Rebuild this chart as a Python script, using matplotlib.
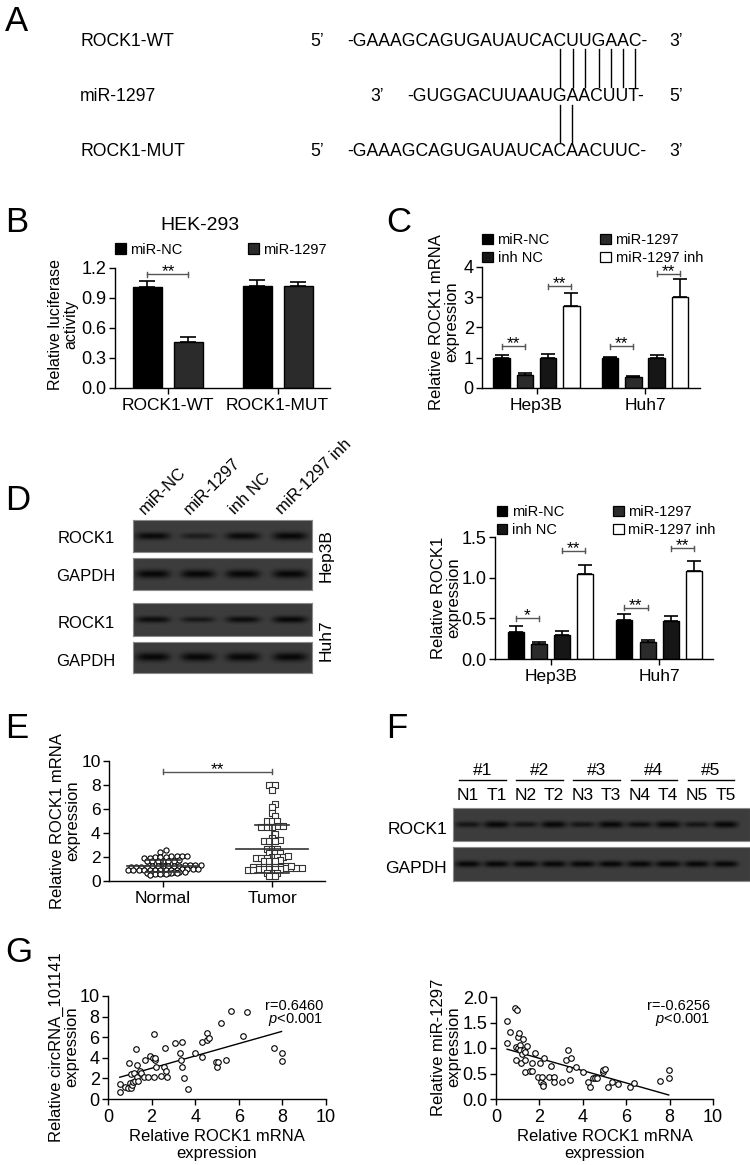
import numpy as np
import matplotlib
matplotlib.use('Agg')
import matplotlib.pyplot as plt
from matplotlib.patches import Rectangle
from matplotlib.lines import Line2D
from matplotlib.font_manager import FontProperties

W, H = 750, 1165
plt.rcParams['font.family'] = ['Liberation Sans', 'DejaVu Sans']
plt.rcParams['mathtext.fontset'] = 'custom'
plt.rcParams['mathtext.rm'] = 'Liberation Sans'
plt.rcParams['mathtext.it'] = 'Liberation Sans:italic'
plt.rcParams['axes.linewidth'] = 1.0
for a in ('xtick', 'ytick'):
    plt.rcParams[a + '.major.width'] = 1.0
    plt.rcParams[a + '.major.size'] = 4
    plt.rcParams[a + '.major.pad'] = 2
    plt.rcParams[a + '.direction'] = 'out'

# ================= DATA =================
# Panel A
a_names = ['ROCK1-WT', 'miR-1297', 'ROCK1-MUT']
a_wt = '-GAAAGCAGUGAUAUCACUUGAAC-'
a_mir = '-GUGGACUUAAUGAACUUT-'
a_mut = '-GAAAGCAGUGAUAUCACAACUUC-'
a_wt_pairs = [17, 18, 19, 20, 21, 22, 23]
a_mut_pairs = [17, 18]
a_mir_anchor = 12

# Panel B
b_groups = ['ROCK1-WT', 'ROCK1-MUT']
b_series = ['miR-NC', 'miR-1297']
b_nc = [1.01, 1.02]
b_nc_err = [0.06, 0.06]
b_mir = [0.46, 1.02]
b_mir_err = [0.05, 0.04]

# Panels C and D (bar charts)
cell_groups = ['Hep3B', 'Huh7']
cd_series = ['miR-NC', 'miR-1297', 'inh NC', 'miR-1297 inh']
c_nc = [1.00, 0.99]
c_nc_err = [0.10, 0.05]
c_mir = [0.44, 0.38]
c_mir_err = [0.05, 0.03]
c_inhnc = [1.00, 1.00]
c_inhnc_err = [0.13, 0.10]
c_inh = [2.72, 3.00]
c_inh_err = [0.42, 0.60]

d_nc = [0.33, 0.48]
d_nc_err = [0.07, 0.07]
d_mir = [0.19, 0.21]
d_mir_err = [0.02, 0.02]
d_inhnc = [0.29, 0.47]
d_inhnc_err = [0.06, 0.06]
d_inh = [1.04, 1.08]
d_inh_err = [0.12, 0.13]

# Panel D western blots (relative band strength)
d_lanes = ['miR-NC', 'miR-1297', 'inh NC', 'miR-1297 inh']
hep3b_rock1 = [0.80, 0.45, 0.80, 1.00]
hep3b_gapdh = [1.00, 1.00, 1.00, 1.00]
huh7_rock1 = [0.75, 0.55, 0.75, 0.90]
huh7_gapdh = [0.95, 0.95, 0.95, 0.95]

# Panel E
e_groups = ['Normal', 'Tumor']
e_normal = [2.6, 2.45,
            2.05, 2.0, 2.05, 1.95, 2.0, 2.05, 1.95, 2.0, 2.05,
            1.7, 1.65, 1.7, 1.75, 1.7, 1.65, 1.7,
            1.3, 1.25, 1.25, 1.2, 1.3, 1.25, 1.2, 1.25, 1.3, 1.2, 1.25, 1.3,
            1.2, 1.25,
            1.0, 0.95, 0.95, 0.9, 1.0, 0.95, 0.9, 1.0, 0.95, 0.9, 0.95, 1.0,
            0.9, 0.95,
            0.75, 0.7, 0.65, 0.7, 0.75, 0.7, 0.65, 0.7, 0.7, 0.75,
            0.55, 0.55, 0.5, 0.55]
e_tumor = [8.0, 8.0, 7.58, 6.4, 6.2, 5.7, 5.4, 5.0, 5.0, 5.0, 4.5, 4.5, 4.55,
           4.5, 4.6, 3.9, 3.6, 3.35, 3.35, 3.4, 3.35, 2.65, 2.65, 2.65, 2.3,
           2.3, 2.3, 2.0, 1.95, 1.95, 2.0, 1.95, 2.0, 2.05, 1.7, 1.7, 1.75,
           1.7, 1.25, 1.2, 1.15, 1.1, 1.1, 1.15, 1.15, 1.1, 1.1, 1.15, 1.15,
           1.25, 0.97, 0.97, 0.95, 0.97, 1.0, 0.97, 0.95, 0.7, 0.65, 0.7,
           0.45, 0.45]

# Panel F western blot
f_groups = ['#1', '#2', '#3', '#4', '#5']
f_lanes = ['N1', 'T1', 'N2', 'T2', 'N3', 'T3', 'N4', 'T4', 'N5', 'T5']
f_rock1 = [0.60, 0.85, 0.60, 0.85, 0.60, 0.90, 0.70, 0.90, 0.60, 0.85]
f_gapdh = [0.85, 0.85, 0.85, 0.85, 0.85, 0.85, 0.85, 0.85, 0.85, 0.85]

# Panel G
g1_x = [0.54, 0.57, 0.77, 0.92, 0.95, 0.99, 1.04, 1.07, 1.10, 1.15, 1.19, 1.22,
        1.30, 1.33, 1.35, 1.38, 1.45, 1.53, 1.65, 1.68, 1.84, 1.91, 2.07, 2.10,
        2.10, 2.14, 2.17, 2.22, 2.45, 2.57, 2.63, 2.68, 2.71, 3.06, 3.29, 3.37,
        3.40, 3.41, 3.48, 3.68, 4.01, 4.29, 4.33, 4.52, 4.55, 4.64, 4.95, 4.98,
        5.05, 5.18, 5.39, 5.64, 6.17, 6.36, 7.61, 7.96, 7.96]
g1_y = [1.46, 0.71, 1.20, 1.04, 3.46, 1.52, 2.40, 1.04, 1.36, 1.68, 2.49, 1.78,
        4.85, 3.30, 2.17, 1.75, 2.75, 2.56, 2.17, 3.79, 2.17, 4.20, 4.00, 6.30,
        2.17, 3.79, 4.00, 3.07, 2.27, 3.14, 4.92, 2.75, 2.17, 5.47, 4.43, 3.79,
        3.14, 5.50, 2.07, 0.97, 4.43, 4.11, 5.57, 5.73, 6.38, 5.95, 3.62, 3.14,
        3.62, 7.41, 3.79, 8.54, 6.15, 8.41, 4.92, 4.50, 3.69]
g1_text = ['r=0.6460', '$\\it{p}$<0.001']
g2_x = [0.51, 0.51, 0.66, 0.86, 0.97, 0.92, 0.94, 1.00, 1.04, 1.01, 1.09, 1.12,
        1.20, 1.17, 1.24, 1.27, 1.32, 1.32, 1.35, 1.43, 1.58, 1.66, 1.66, 1.78,
        1.93, 2.04, 2.09, 2.12, 2.15, 2.16, 2.19, 2.42, 2.55, 2.65, 2.68, 3.04,
        3.24, 3.33, 3.36, 3.39, 3.47, 3.68, 3.99, 4.26, 4.31, 4.49, 4.57, 4.65,
        4.91, 4.95, 5.00, 5.17, 5.35, 5.63, 6.17, 6.37, 7.56, 7.96, 7.96]
g2_y = [1.53, 1.09, 1.32, 1.79, 1.74, 0.76, 1.02, 1.22, 1.30, 1.00, 1.06, 0.96,
        0.89, 0.70, 1.17, 0.96, 0.93, 0.76, 0.52, 1.04, 0.55, 0.55, 0.71, 0.91,
        0.44, 0.71, 0.34, 0.44, 0.29, 0.26, 0.81, 0.44, 0.64, 0.44, 0.33, 0.33,
        0.76, 0.97, 0.59, 0.37, 0.81, 0.62, 0.53, 0.33, 0.23, 0.42, 0.42, 0.42,
        0.52, 0.57, 0.58, 0.23, 0.34, 0.29, 0.23, 0.32, 0.36, 0.42, 0.57]
g2_text = ['r=-0.6256', '$\\it{p}$<0.001']

series_colors = ['#000000', '#2b2b2b', '#161616', '#ffffff']

# ================= HELPERS =================
fig = plt.figure(figsize=(W / 100, H / 100), dpi=100)
renderer = fig.canvas.get_renderer()


def add_ax(x0, y0, x1, y1):
    return fig.add_axes([x0 / W, 1 - y1 / H, (x1 - x0) / W, (y1 - y0) / H])


def ftext(x, y, s, **kw):
    return fig.text(x / W, 1 - y / H, s, **kw)


def fline(xs, ys, **kw):
    fig.add_artist(Line2D([x / W for x in xs], [1 - y / H for y in ys],
                          transform=fig.transFigure, **kw))


def letter(x, y, s):
    ftext(x, y, s, fontsize=25, va='baseline', ha='left')


def style_ax(ax):
    ax.spines['top'].set_visible(False)
    ax.spines['right'].set_visible(False)


def legend_item(x, y, color, label, size=10.5, fs=10.5):
    fig.add_artist(Rectangle((x / W, 1 - (y + size) / H), size / W, size / H,
                             transform=fig.transFigure, facecolor=color,
                             edgecolor='black', lw=0.9))
    ftext(x + size + 5, y + size, label, fontsize=fs, va='baseline')


def bars(ax, vals_list, errs_list, colors, offsets, width, capsize):
    centers = []
    for vals, errs, col, off in zip(vals_list, errs_list, colors, offsets):
        xs = np.arange(len(vals)) + off
        ax.errorbar(xs, vals, yerr=[np.zeros(len(vals)), errs], fmt='none',
                    ecolor='black', elinewidth=1.2, capsize=capsize,
                    capthick=1.2, zorder=1)
        ax.bar(xs, vals, width=width, color=col, edgecolor='black',
               linewidth=1.0, zorder=2)
        centers.append(xs)
    return centers


def bracket(ax, x1, x2, y, label, dy):
    ax.plot([x1, x2], [y, y], color='#555555', lw=1.0, zorder=4, clip_on=False)
    for xx in (x1, x2):
        ax.plot([xx, xx], [y - dy, y + dy], color='#555555', lw=1.0,
                zorder=4, clip_on=False)
    ax.annotate(label, ((x1 + x2) / 2, y), xytext=(0, -1.5),
                textcoords='offset points', ha='center', va='baseline',
                fontsize=12.5, annotation_clip=False)


def blot(x0, y0, x1, y1, centers, amps, halfw, thick, bg=0.24):
    w = int(round(x1 - x0))
    h = int(round(y1 - y0))
    xx = np.arange(w)[None, :] + 0.5 + x0
    yy = np.arange(h)[:, None] + 0.5
    img = np.full((h, w), bg)
    cy = h / 2.0
    for c, a in zip(centers, amps):
        px = np.exp(-np.abs((xx - c) / halfw) ** 4)
        py = np.exp(-((yy - cy) / (thick * (0.55 + 0.45 * a))) ** 2)
        img = img - (bg - 0.03) * min(1.0, a + 0.15) * px * py
    img = np.clip(img, 0, 1)
    ax = add_ax(x0, y0, x1, y1)
    ax.imshow(img, cmap='gray', vmin=0, vmax=1, aspect='auto',
              interpolation='bilinear', extent=[0, 1, 0, 1])
    ax.set_xticks([])
    ax.set_yticks([])
    for s in ax.spines.values():
        s.set_color('#8a8a8a')
        s.set_linewidth(0.8)
    return ax


def row_layout(vals, thr, s_px, ppu_x, ppu_y, d_px):
    """GraphPad-like scatter-dot layout: group close values into rows."""
    vals = np.asarray(vals, float)
    order = np.argsort(vals, kind='stable')
    rows = []
    for i in order:
        if rows and vals[i] - vals[rows[-1][0]] <= thr:
            rows[-1].append(i)
        else:
            rows.append([i])
    offs = np.zeros(len(vals))
    prev_mean, prev_shift, prev_n = None, 0.0, 0
    for r in rows:
        n = len(r)
        ym = np.mean(vals[r])
        shift = 0.0
        if (prev_mean is not None and (ym - prev_mean) * ppu_y < d_px
                and (n % 2) == (prev_n % 2) and prev_shift == 0.0):
            shift = s_px / 2
        for j, i in enumerate(r):
            offs[i] = ((j - (n - 1) / 2.0) * s_px + shift) / ppu_x
        prev_mean, prev_shift, prev_n = ym, shift, n
    return offs


# ================= PANEL A =================
letter(5, 31, 'A')
fsA = 12.7
fpA = FontProperties(family=['Liberation Sans'], size=fsA)


def tw(s):
    return renderer.get_text_width_height_descent(s, fpA, ismath=False)[0]


def cc(seq, i):
    return (tw(seq[:i]) + tw(seq[:i + 1])) / 2.0


rows_y = [46, 101, 156]
seq_x = 347
for name, yb in zip(a_names, rows_y):
    ftext(80, yb, name, fontsize=fsA, va='baseline')
ftext(seq_x, rows_y[0], a_wt, fontsize=fsA, va='baseline')
ftext(seq_x, rows_y[2], a_mut, fontsize=fsA, va='baseline')
mir_x = seq_x + cc(a_wt, a_wt_pairs[0]) - cc(a_mir, a_mir_anchor)
ftext(mir_x, rows_y[1], a_mir, fontsize=fsA, va='baseline')
end_x = seq_x + tw(a_wt)
ftext(seq_x - 37, rows_y[0], '5’', fontsize=fsA, va='baseline')
ftext(seq_x - 37, rows_y[2], '5’', fontsize=fsA, va='baseline')
ftext(end_x + 22, rows_y[0], '3’', fontsize=fsA, va='baseline')
ftext(end_x + 22, rows_y[2], '3’', fontsize=fsA, va='baseline')
ftext(mir_x - 37, rows_y[1], '3’', fontsize=fsA, va='baseline')
ftext(end_x + 22, rows_y[1], '5’', fontsize=fsA, va='baseline')
for i in a_wt_pairs:
    x = seq_x + cc(a_wt, i)
    fline([x, x], [49, 87], color='black', lw=1.0)
for i in a_mut_pairs:
    x = seq_x + cc(a_mut, i)
    fline([x, x], [105, 142], color='black', lw=1.0)

# ================= PANEL B =================
letter(5, 232, 'B')
axB = add_ax(115, 268, 330, 388)
style_ax(axB)
grpB = 109.5
offB = [-20.5 / grpB, 20.5 / grpB]
cB = bars(axB, [b_nc, b_mir], [b_nc_err, b_mir_err], series_colors[:2],
          offB, 29 / grpB, 5.5)
axB.set_ylim(0, 1.2)
axB.set_xlim(-53 / grpB, 162 / grpB)
axB.set_yticks([0, 0.3, 0.6, 0.9, 1.2])
axB.set_yticklabels(['0.0', '0.3', '0.6', '0.9', '1.2'], fontsize=13)
axB.set_xticks(range(len(b_groups)))
axB.set_xticklabels(b_groups, fontsize=12.5)
axB.tick_params(axis='x', pad=3)
bracket(axB, cB[0][0], cB[1][0], 1.14, '**', 0.025)
ftext(200, 230, 'HEK-293', fontsize=14, ha='center', va='baseline')
legend_item(115, 243, series_colors[0], b_series[0])
legend_item(248, 243, series_colors[1], b_series[1])
ftext(63, 324, 'Relative luciferase\nactivity', fontsize=11.5, rotation=90,
      ha='center', va='center', multialignment='center', linespacing=1.05)

# ================= PANEL C =================
letter(386, 232, 'C')
axC = add_ax(482, 267, 700, 388)
style_ax(axC)
grpC = 108.5
offC = [-35 / grpC, -11.6 / grpC, 11.6 / grpC, 34.8 / grpC]
cC = bars(axC, [c_nc, c_mir, c_inhnc, c_inh],
          [c_nc_err, c_mir_err, c_inhnc_err, c_inh_err], series_colors,
          offC, 16.5 / grpC, 5)
axC.set_ylim(0, 4)
axC.set_xlim(-54.5 / grpC, 163.5 / grpC)
axC.set_yticks([0, 1, 2, 3, 4])
axC.set_yticklabels(['0', '1', '2', '3', '4'], fontsize=13)
axC.set_xticks(range(len(cell_groups)))
axC.set_xticklabels(cell_groups, fontsize=12.5)
axC.tick_params(axis='x', pad=3)
bracket(axC, cC[0][0], cC[1][0], 1.38, '**', 0.08)
bracket(axC, cC[2][0], cC[3][0], 3.36, '**', 0.08)
bracket(axC, cC[0][1], cC[1][1], 1.38, '**', 0.08)
bracket(axC, cC[2][1], cC[3][1], 3.78, '**', 0.08)
legend_item(482, 233.5, series_colors[0], cd_series[0])
legend_item(600, 233.5, series_colors[1], cd_series[1])
legend_item(482, 251.5, series_colors[2], cd_series[2])
legend_item(600, 251.5, series_colors[3], cd_series[3])
ftext(444, 322, 'Relative ROCK1 mRNA\nexpression', fontsize=12, rotation=90,
      ha='center', va='center', multialignment='center', linespacing=1.05)

# ================= PANEL D =================
letter(5, 510, 'D')
lane_c = [153, 198, 243, 290]
blot(133, 520, 312, 552, lane_c, hep3b_rock1, 17, 4.0)
blot(133, 558, 312, 590, lane_c, hep3b_gapdh, 17, 4.2)
blot(133, 603, 312, 636, lane_c, huh7_rock1, 17, 3.6)
blot(133, 642, 312, 673, lane_c, huh7_gapdh, 17, 4.2)
for lab, x in zip(d_lanes, lane_c):
    ftext(x - 8, 515, lab, fontsize=12, rotation=45, rotation_mode='anchor',
          ha='left', va='baseline')
ftext(115, 543, 'ROCK1', fontsize=12, ha='right', va='baseline')
ftext(115, 581, 'GAPDH', fontsize=12, ha='right', va='baseline')
ftext(115, 628, 'ROCK1', fontsize=12, ha='right', va='baseline')
ftext(115, 666, 'GAPDH', fontsize=12, ha='right', va='baseline')
ftext(326, 556, 'Hep3B', fontsize=12.5, rotation=90, ha='center', va='center')
ftext(326, 640, 'Huh7', fontsize=12.5, rotation=90, ha='center', va='center')

axD = add_ax(495, 537, 713, 659)
style_ax(axD)
grpD = 108.4
offD = [-34.6 / grpD, -11.5 / grpD, 11.5 / grpD, 34.6 / grpD]
cD = bars(axD, [d_nc, d_mir, d_inhnc, d_inh],
          [d_nc_err, d_mir_err, d_inhnc_err, d_inh_err], series_colors,
          offD, 16 / grpD, 5)
axD.set_ylim(0, 1.5)
axD.set_xlim(-55.6 / grpD, 162.4 / grpD)
axD.set_yticks([0, 0.5, 1.0, 1.5])
axD.set_yticklabels(['0.0', '0.5', '1.0', '1.5'], fontsize=13)
axD.set_xticks(range(len(cell_groups)))
axD.set_xticklabels(cell_groups, fontsize=12.5)
axD.tick_params(axis='x', pad=3)
bracket(axD, cD[0][0], cD[1][0], 0.50, '*', 0.03)
bracket(axD, cD[0][1], cD[1][1], 0.63, '**', 0.03)
bracket(axD, cD[2][0], cD[3][0], 1.33, '**', 0.03)
bracket(axD, cD[2][1], cD[3][1], 1.36, '**', 0.03)
legend_item(497, 505.5, series_colors[0], cd_series[0])
legend_item(613, 505.5, series_colors[1], cd_series[1])
legend_item(497, 523.5, series_colors[2], cd_series[2])
legend_item(613, 523.5, series_colors[3], cd_series[3])
ftext(446, 598, 'Relative ROCK1\nexpression', fontsize=12, rotation=90,
      ha='center', va='center', multialignment='center', linespacing=1.05)

# ================= PANEL E =================
letter(5, 738, 'E')
axE = add_ax(109, 761, 325, 881)
style_ax(axE)
grpE = 109.0
for k, (vals, mk, ec) in enumerate([(e_normal, 'o', 'black'),
                                    (e_tumor, 's', '#333333')]):
    offs = row_layout(vals, 0.16, 5.4, grpE, 12.0, 5.4)
    axE.scatter(k + offs, vals, s=14 if mk == 'o' else 13, marker=mk,
                facecolor='white', edgecolor=ec, linewidths=0.8, zorder=3,
                clip_on=False)
    m = np.mean(vals)
    sd = np.std(vals, ddof=1)
    axE.plot([k - 0.33, k + 0.33], [m, m], color='#333333', lw=1.2, zorder=4)
    axE.plot([k - 0.16, k + 0.16], [m + sd, m + sd], color='#333333', lw=1.2, zorder=4)
    axE.plot([k - 0.16, k + 0.16], [m - sd, m - sd], color='#333333', lw=1.2, zorder=4)
    axE.plot([k, k], [m - sd, m + sd], color='#333333', lw=1.2, zorder=4)
axE.set_ylim(0, 10)
axE.set_xlim(-54 / grpE, 162 / grpE)
axE.set_yticks([0, 2, 4, 6, 8, 10])
axE.set_yticklabels(['0', '2', '4', '6', '8', '10'], fontsize=12.5)
axE.set_xticks(range(len(e_groups)))
axE.set_xticklabels(e_groups, fontsize=12.5)
axE.tick_params(axis='x', pad=3)
bracket(axE, 0, 1, 9.1, '**', 0.2)
ftext(65, 821, 'Relative ROCK1 mRNA\nexpression', fontsize=12, rotation=90,
      ha='center', va='center', multialignment='center', linespacing=1.05)

# ================= PANEL F =================
letter(386, 738, 'F')
f_c = [468 + 28.6 * i for i in range(len(f_lanes))]
blot(453, 808, 750, 841, f_c, f_rock1, 12.5, 3.6)
blot(453, 847, 750, 881, f_c, f_gapdh, 12.5, 3.4)
for lab, x in zip(f_lanes, f_c):
    ftext(x, 800, lab, fontsize=12.5, ha='center', va='baseline')
for g, lab in enumerate(f_groups):
    xa, xb = f_c[2 * g], f_c[2 * g + 1]
    ftext((xa + xb) / 2, 775, lab, fontsize=12.5, ha='center', va='baseline')
    fline([xa - 9, xb + 9], [780, 780], color='black', lw=1.0)
ftext(447, 834, 'ROCK1', fontsize=12.5, ha='right', va='baseline')
ftext(447, 873, 'GAPDH', fontsize=12.5, ha='right', va='baseline')

# ================= PANEL G =================
letter(5, 962, 'G')


def scatter_panel(box, xs, ys, ylim, yticks, yticklabels, texts, tx, ylabel,
                  ylx):
    ax = add_ax(*box)
    style_ax(ax)
    ax.scatter(xs, ys, s=16, marker='o', facecolor='white', edgecolor='black',
               linewidths=0.8, zorder=3, clip_on=False)
    k, b0 = np.polyfit(xs, ys, 1)
    xl = np.array([min(xs), max(xs)])
    ax.plot(xl, k * xl + b0, color='black', lw=1.0, zorder=2)
    ax.set_xlim(0, 10)
    ax.set_ylim(*ylim)
    ax.set_xticks([0, 2, 4, 6, 8, 10])
    ax.set_xticklabels(['0', '2', '4', '6', '8', '10'], fontsize=13)
    ax.set_yticks(yticks)
    ax.set_yticklabels(yticklabels, fontsize=13)
    ax.tick_params(axis='x', pad=3)
    ftext(tx, 1010, texts[0], fontsize=10.5, ha='right', va='baseline')
    ftext(tx, 1023, texts[1], fontsize=10.5, ha='right', va='baseline')
    cx = (box[0] + box[2]) / 2
    ftext(cx, 1145, 'Relative ROCK1 mRNA\nexpression', fontsize=12,
          ha='center', va='center', multialignment='center', linespacing=1.1)
    ftext(ylx, 1047, ylabel, fontsize=12, rotation=90, ha='center',
          va='center', multialignment='center', linespacing=1.05)
    return ax


scatter_panel((108, 996, 326, 1099), g1_x, g1_y, (0, 10), [0, 2, 4, 6, 8, 10],
              ['0', '2', '4', '6', '8', '10'], g1_text, 323,
              'Relative circRNA_101141\nexpression', 64)
scatter_panel((496, 997, 713, 1099), g2_x, g2_y, (0, 2.0),
              [0, 0.5, 1.0, 1.5, 2.0], ['0.0', '0.5', '1.0', '1.5', '2.0'],
              g2_text, 710, 'Relative miR-1297\nexpression', 446)

fig.savefig('out.png', dpi=100)
